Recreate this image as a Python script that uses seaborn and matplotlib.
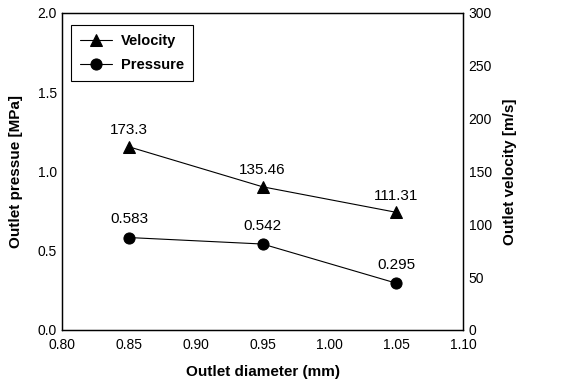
import matplotlib
matplotlib.use("Agg")
import matplotlib.pyplot as plt
import seaborn as sns

# data
diameter = [0.85, 0.95, 1.05]
velocity = [173.3, 135.46, 111.31]
pressure = [0.583, 0.542, 0.295]
velocity_labels = ["173.3", "135.46", "111.31"]
pressure_labels = ["0.583", "0.542", "0.295"]

sns.set_style("white")
plt.rcParams['font.family'] = ['Liberation Sans', 'DejaVu Sans']
plt.rcParams.update({'text.color': 'black', 'axes.labelcolor': 'black',
                     'xtick.color': 'black', 'ytick.color': 'black'})

fig = plt.figure(figsize=(5.71, 3.81), dpi=100)
ax = fig.add_axes([0.109, 0.134, 0.702, 0.832])
ax2 = ax.twinx()

sns.lineplot(x=diameter, y=pressure, ax=ax, color='black', marker='o', markersize=8,
             linewidth=0.8, markeredgecolor='black', label='Pressure', legend=False)
sns.lineplot(x=diameter, y=velocity, ax=ax2, color='black', marker='^', markersize=8,
             linewidth=0.8, markeredgecolor='black', label='Velocity', legend=False)

for x, y, t in zip(diameter, pressure, pressure_labels):
    ax.annotate(t, (x, y), xytext=(0, 8), textcoords='offset points', ha='center',
                va='bottom', fontsize=11)
for x, y, t in zip(diameter, velocity, velocity_labels):
    ax2.annotate(t, (x, y), xytext=(0, 7), textcoords='offset points', ha='center',
                 va='bottom', fontsize=11)

ax.set_xlim(0.80, 1.10)
ax.set_ylim(0, 2.0)
ax2.set_ylim(0, 300)
ax.set_xticks([0.80, 0.85, 0.90, 0.95, 1.00, 1.05, 1.10])
ax.set_yticks([0.0, 0.5, 1.0, 1.5, 2.0])
ax2.set_yticks([0, 50, 100, 150, 200, 250, 300])
ax.xaxis.set_major_formatter(matplotlib.ticker.FormatStrFormatter('%.2f'))
ax.yaxis.set_major_formatter(matplotlib.ticker.FormatStrFormatter('%.1f'))

for a in (ax, ax2):
    a.tick_params(length=0, labelsize=10, pad=4)
    for s in a.spines.values():
        s.set_color('black')
        s.set_linewidth(0.9)
ax.tick_params(axis='x', pad=6)

ax.set_xlabel('Outlet diameter (mm)', fontsize=11, fontweight='bold', labelpad=9)
ax.set_ylabel('Outlet pressue [MPa]', fontsize=11, fontweight='bold', labelpad=10)
ax2.set_ylabel('Outlet velocity [m/s]', fontsize=11, fontweight='bold', labelpad=8)

h1, l1 = ax.get_legend_handles_labels()
h2, l2 = ax2.get_legend_handles_labels()
leg = ax.legend(h2 + h1, l2 + l1, loc='upper left', bbox_to_anchor=(0.022, 0.962),
                borderaxespad=0, fancybox=False, edgecolor='black', framealpha=1,
                borderpad=0.6, labelspacing=0.7, handlelength=2.2, handletextpad=0.6,
                prop={'weight': 'bold', 'size': 10.5})
leg.get_frame().set_linewidth(0.8)

fig.savefig('out.png', dpi=100)
